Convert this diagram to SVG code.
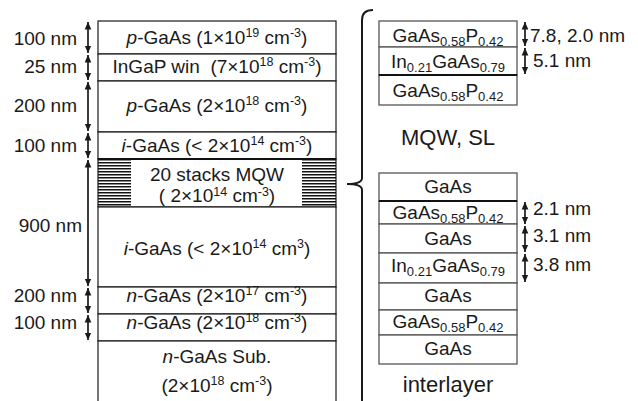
<svg xmlns="http://www.w3.org/2000/svg" width="638" height="401" viewBox="0 0 638 401">
<style>
.t{font-family:"Liberation Sans",Arial,sans-serif;font-size:19px;fill:#1a1a1a}
.m{text-anchor:middle}
.e{text-anchor:end}
.b{font-size:22px}
.s{font-size:12.5px}
.r{font-size:13px}
.box{fill:#fff;stroke:#1a1a1a;stroke-width:1.2}
.rb{fill:#fff;stroke:#555;stroke-width:1.3}
.arr{stroke:#1a1a1a;stroke-width:1.7;fill:none;marker-start:url(#ah);marker-end:url(#ah)}
.thick{stroke:#111;stroke-width:2}
</style>
<defs>
<marker id="ah" viewBox="0 0 10 10" refX="10" refY="5" markerWidth="7.5" markerHeight="7.5" markerUnits="userSpaceOnUse" orient="auto-start-reverse">
<path d="M0,0.5 L10,5 L0,9.5 z" fill="#1a1a1a"/>
</marker>
<pattern id="hatch" patternUnits="userSpaceOnUse" width="10" height="3">
<rect x="0" y="0" width="10" height="1.5" fill="#111"/>
</pattern>
</defs>
<rect width="638" height="401" fill="#fff"/>

<g id="left-stack">
<g id="l1"><rect class="box" x="98" y="21" width="238" height="33"/>
<text class="t m" x="217" y="44"><tspan font-style="italic">p</tspan>-GaAs (1×10<tspan class="s" dy="-7">19</tspan><tspan dy="7"> cm</tspan><tspan class="s" dy="-7">-3</tspan><tspan dy="7">)</tspan></text></g>
<g id="l2"><rect class="box" x="98" y="54" width="238" height="27"/>
<text class="t m" x="217" y="73">InGaP win&#160; (7×10<tspan class="s" dy="-7">18</tspan><tspan dy="7"> cm</tspan><tspan class="s" dy="-7">-3</tspan><tspan dy="7">)</tspan></text></g>
<g id="l3"><rect class="box" x="98" y="81" width="238" height="51"/>
<text class="t m" x="217" y="112"><tspan font-style="italic">p</tspan>-GaAs (2×10<tspan class="s" dy="-7">18</tspan><tspan dy="7"> cm</tspan><tspan class="s" dy="-7">-3</tspan><tspan dy="7">)</tspan></text></g>
<g id="l4"><rect class="box" x="98" y="132" width="238" height="27"/>
<text class="t m" x="217" y="152"><tspan font-style="italic">i</tspan>-GaAs (&lt; 2×10<tspan class="s" dy="-7">14</tspan><tspan dy="7"> cm</tspan><tspan class="s" dy="-7">-3</tspan><tspan dy="7">)</tspan></text></g>
<g id="l5"><rect class="box" x="98" y="159" width="238" height="48"/>
<rect x="98" y="159" width="33" height="47" fill="url(#hatch)"/>
<rect x="302" y="159" width="34" height="47" fill="url(#hatch)"/>
<line class="thick" x1="98" y1="159" x2="336" y2="159"/>
<text class="t m" x="217" y="181">20 stacks MQW</text>
<text class="t m" x="217" y="202">( 2×10<tspan class="s" dy="-6">14</tspan><tspan dy="6"> cm</tspan><tspan class="s" dy="-6">-3</tspan><tspan dy="6">)</tspan></text></g>
<g id="l6"><rect class="box" x="98" y="207" width="238" height="80"/>
<text class="t m" x="217" y="255"><tspan font-style="italic">i</tspan>-GaAs (&lt; 2×10<tspan class="s" dy="-7">14</tspan><tspan dy="7"> cm</tspan><tspan class="s" dy="-7">3</tspan><tspan dy="7">)</tspan></text></g>
<g id="l7"><rect class="box" x="98" y="287" width="238" height="27"/>
<text class="t m" x="217" y="302"><tspan font-style="italic">n</tspan>-GaAs (2×10<tspan class="s" dy="-7">17</tspan><tspan dy="7"> cm</tspan><tspan class="s" dy="-7">-3</tspan><tspan dy="7">)</tspan></text></g>
<g id="l8"><rect class="box" x="98" y="314" width="238" height="27"/>
<text class="t m" x="217" y="329"><tspan font-style="italic">n</tspan>-GaAs (2×10<tspan class="s" dy="-7">18</tspan><tspan dy="7"> cm</tspan><tspan class="s" dy="-7">-3</tspan><tspan dy="7">)</tspan></text></g>
<g id="l9"><rect class="box" x="98" y="341" width="238" height="70"/>
<text class="t m" x="217" y="363"><tspan font-style="italic">n</tspan>-GaAs Sub.</text>
<text class="t m" x="217" y="392">(2×10<tspan class="s" dy="-7">18</tspan><tspan dy="7"> cm</tspan><tspan class="s" dy="-7">-3</tspan><tspan dy="7">)</tspan></text></g>
</g>

<g id="left-dims">
<text class="t e" x="77" y="45">100 nm</text>
<text class="t e" x="77" y="73">25 nm</text>
<text class="t e" x="77" y="112">200 nm</text>
<text class="t e" x="77" y="152">100 nm</text>
<text class="t e" x="82" y="232">900 nm</text>
<text class="t e" x="77" y="302">200 nm</text>
<text class="t e" x="77" y="329">100 nm</text>
</g>

<g id="mqw-sl">
<rect class="rb" x="379" y="21" width="138" height="26"/>
<text class="t m" x="448" y="42">GaAs<tspan class="r" dy="4">0.58</tspan><tspan dy="-4">P</tspan><tspan class="r" dy="4">0.42</tspan></text>
<rect class="rb" x="379" y="47" width="138" height="28"/>
<text class="t m" x="448" y="68">In<tspan class="r" dy="4">0.21</tspan><tspan dy="-4">GaAs</tspan><tspan class="r" dy="4">0.79</tspan></text>
<rect class="rb" x="379" y="75" width="138" height="30"/>
<line class="thick" x1="379" y1="75" x2="517" y2="75"/>
<text class="t m" x="448" y="97">GaAs<tspan class="r" dy="4">0.58</tspan><tspan dy="-4">P</tspan><tspan class="r" dy="4">0.42</tspan></text>
<text class="t m b" x="448" y="145">MQW, SL</text>
</g>

<g id="interlayer">
<rect class="rb" x="379" y="173" width="138" height="28"/>
<text class="t m" x="448" y="193">GaAs</text>
<rect class="rb" x="379" y="201" width="138" height="23"/>
<line class="thick" x1="379" y1="201" x2="517" y2="201"/>
<text class="t m" x="448" y="219">GaAs<tspan class="r" dy="4">0.58</tspan><tspan dy="-4">P</tspan><tspan class="r" dy="4">0.42</tspan></text>
<rect class="rb" x="379" y="224" width="138" height="29"/>
<text class="t m" x="448" y="245">GaAs</text>
<rect class="rb" x="379" y="253" width="138" height="30"/>
<text class="t m" x="448" y="272">In<tspan class="r" dy="4">0.21</tspan><tspan dy="-4">GaAs</tspan><tspan class="r" dy="4">0.79</tspan></text>
<rect class="rb" x="379" y="283" width="138" height="27"/>
<text class="t m" x="448" y="302">GaAs</text>
<rect class="rb" x="379" y="310" width="138" height="25"/>
<text class="t m" x="448" y="328">GaAs<tspan class="r" dy="4">0.58</tspan><tspan dy="-4">P</tspan><tspan class="r" dy="4">0.42</tspan></text>
<rect class="rb" x="379" y="335" width="138" height="29"/>
<text class="t m" x="448" y="355">GaAs</text>
<text class="t m b" x="448" y="392">interlayer</text>
</g>

<g id="right-dims">
<text class="t" x="530" y="42">7.8, 2.0 nm</text>
<text class="t" x="533" y="67">5.1 nm</text>
<text class="t" x="533" y="215">2.1 nm</text>
<text class="t" x="533" y="242">3.1 nm</text>
<text class="t" x="533" y="271">3.8 nm</text>
</g>

<g id="connectors">
<line class="arr" x1="88" y1="22" x2="88" y2="53"/>
<line class="arr" x1="88" y1="55" x2="88" y2="80"/>
<line class="arr" x1="88" y1="82" x2="88" y2="131"/>
<line class="arr" x1="88" y1="133" x2="88" y2="158"/>
<line class="arr" x1="88" y1="160" x2="88" y2="286"/>
<line class="arr" x1="88" y1="288" x2="88" y2="313"/>
<line class="arr" x1="88" y1="315" x2="88" y2="340"/>
<line class="arr" x1="525" y1="22" x2="525" y2="46"/>
<line class="arr" x1="525" y1="48" x2="525" y2="74"/>
<line class="arr" x1="525" y1="202" x2="525" y2="224"/>
<line class="arr" x1="525" y1="226" x2="525" y2="252"/>
<line class="arr" x1="525" y1="254" x2="525" y2="282"/>
<path d="M373,10 Q362,10 362,20 L362,178 Q362,184 347,184 Q362,184 362,190 L362,405" fill="none" stroke="#1a1a1a" stroke-width="2"/>
</g>
</svg>
